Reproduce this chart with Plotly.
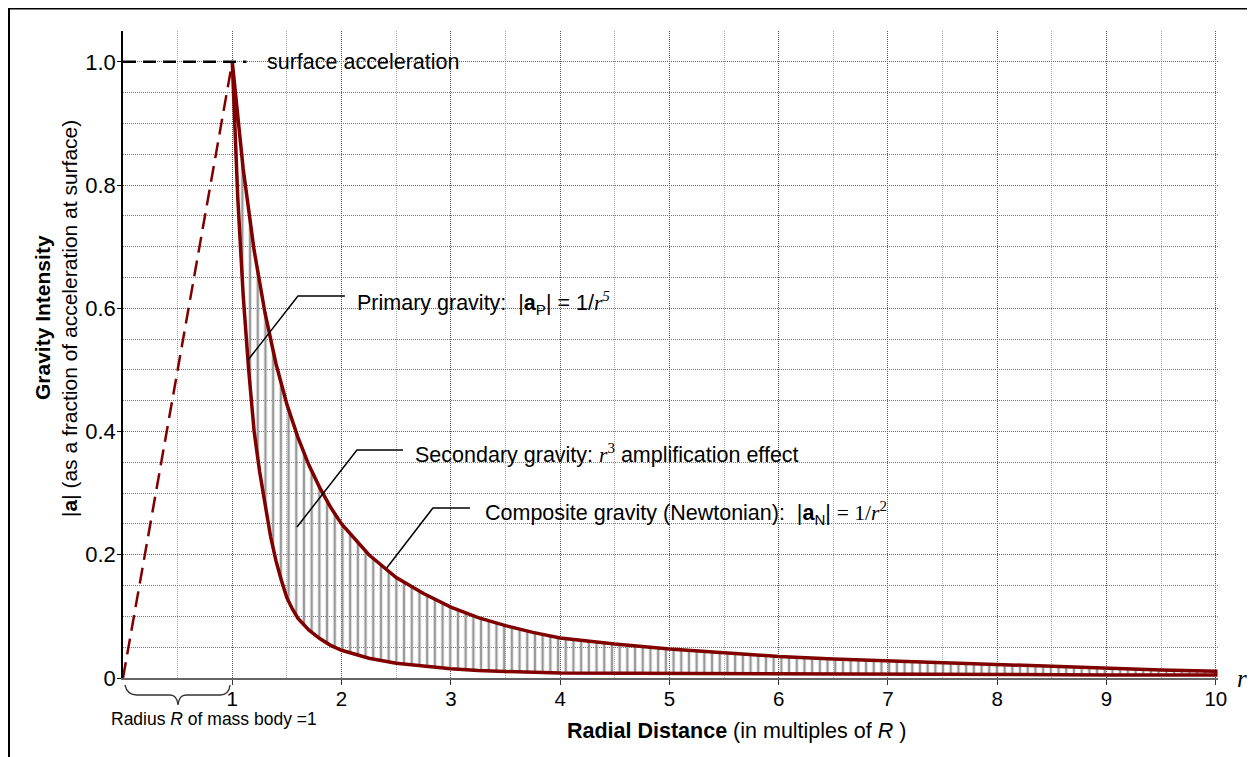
import plotly.graph_objects as go

# ---------------- data ----------------
r_upper = [1.0, 1.1, 1.2, 1.3, 1.4, 1.5, 1.6, 1.7, 1.8, 1.9, 2.0, 2.25, 2.5, 2.75,
           3.0, 3.25, 3.5, 3.75, 4.0, 4.5, 5.0, 5.5, 6.0, 6.5, 7.0, 7.5, 8.0,
           8.5, 9.0, 9.5, 10.0]
a_newtonian = [1.0, 0.826, 0.694, 0.592, 0.510, 0.444, 0.391, 0.346, 0.309, 0.277,
               0.250, 0.200, 0.163, 0.137, 0.115, 0.098, 0.085, 0.074, 0.065,
               0.055, 0.047, 0.041, 0.035, 0.031, 0.028, 0.024, 0.021, 0.018,
               0.016, 0.013, 0.011]

r_lower = [1.0, 1.05, 1.1, 1.15, 1.2, 1.25, 1.3, 1.35, 1.4, 1.45, 1.5, 1.55, 1.6,
           1.7, 1.8, 1.9, 2.0, 2.25, 2.5, 2.75, 3.0, 3.25, 3.5, 4.0, 4.5, 5.0,
           6.0, 7.0, 8.0, 9.0, 10.0]
a_primary = [1.0, 0.78, 0.62, 0.50, 0.40, 0.335, 0.28, 0.23, 0.19, 0.158, 0.13,
             0.112, 0.097, 0.078, 0.064, 0.053, 0.045, 0.032, 0.024, 0.019,
             0.015, 0.012, 0.0105, 0.008, 0.007, 0.0065, 0.006, 0.006, 0.0055,
             0.005, 0.005]

r_inner = [0.0, 1.0]
a_inner = [0.0, 1.0]

r_surface = [0.0, 1.13]
a_surface = [1.0, 1.0]

x_tickvals = [1, 2, 3, 4, 5, 6, 7, 8, 9, 10]
x_ticktext = ["1", "2", "3", "4", "5", "6", "7", "8", "9", "10"]
y_tickvals = [0, 0.2, 0.4, 0.6, 0.8, 1.0]
y_ticktext = ["0", "0.2", "0.4", "0.6", "0.8", "1.0"]

# ---------------- styles / layout ----------------
RED = "#800000"
SANS = "Liberation Sans, Arial, sans-serif"
SERIF = "Liberation Serif, Times New Roman, serif"

OX, OY = 8, 8                 # page offset of the figure (body margin)
W, H = 1247, 749
L, R, T, B = 115, 37, 23, 79
PW, PH = W - L - R, H - T - B


def px(xp):
    """page pixel x -> paper x"""
    return (xp - OX - L) / PW


def py(yp):
    """page pixel y -> paper y"""
    return (OY + H - B - yp) / PH


fig = go.Figure()

# hatched region between composite and primary curves (closed outline)
fig.add_trace(go.Scatter(
    x=r_upper + r_lower[::-1],
    y=a_newtonian + a_primary[::-1],
    mode="lines",
    fill="toself",
    fillcolor="rgba(0,0,0,0)",
    fillpattern=dict(shape="|", fgcolor="#999999", bgcolor="rgba(0,0,0,0)",
                     size=7.7, solidity=0.32, fillmode="replace"),
    line=dict(color=RED, width=3.5),
    hoverinfo="skip",
))

# interior (linear) gravity, dashed
fig.add_trace(go.Scatter(
    x=r_inner, y=a_inner, mode="lines",
    line=dict(color=RED, width=2.5, dash="16px,8px"),
    hoverinfo="skip",
))

# surface acceleration dashed line
fig.add_trace(go.Scatter(
    x=r_surface, y=a_surface, mode="lines",
    line=dict(color="black", width=2.5, dash="13px,7px"),
    hoverinfo="skip",
))

shapes = []
# leader lines
leaders = [
    [(1.144, 0.516), (1.601, 0.620), (2.031, 0.620)],
    [(1.592, 0.245), (2.141, 0.370), (2.562, 0.370)],
    [(2.415, 0.179), (2.836, 0.276), (3.175, 0.276)],
]
for pts in leaders:
    path = "M %f,%f " % pts[0] + " ".join("L %f,%f" % p for p in pts[1:])
    shapes.append(dict(type="path", xref="x", yref="y", path=path,
                       line=dict(color="black", width=1.5)))

# brace under the radius (paper coordinates so it is not clipped)
bp = [(125, 685), (127, 695), (137, 695), (170, 695), (177, 695), (178, 705),
      (179, 695), (186, 695), (220, 695), (229, 695), (230, 685)]
P = [(px(a), py(b)) for a, b in bp]
brace = ("M {0[0]},{0[1]} Q {1[0]},{1[1]} {2[0]},{2[1]} L {3[0]},{3[1]} "
         "Q {4[0]},{4[1]} {5[0]},{5[1]} Q {6[0]},{6[1]} {7[0]},{7[1]} "
         "L {8[0]},{8[1]} Q {9[0]},{9[1]} {10[0]},{10[1]}").format(*P)
shapes.append(dict(type="path", xref="paper", yref="paper", path=brace,
                   line=dict(color="#333333", width=1.3)))

# outer frame
shapes.append(dict(type="rect", xref="paper", yref="paper",
                   x0=px(9), x1=px(1270), y0=py(775), y1=py(8.5),
                   line=dict(color="black", width=2)))

FS = 21.5
annotations = [
    dict(x=1.30, y=1.0, xref="x", yref="y", xanchor="left", yanchor="middle",
         text="surface acceleration", showarrow=False,
         font=dict(size=FS, family=SANS, color="black")),
    dict(x=2.12, y=0.609, xref="x", yref="y", xanchor="left", yanchor="middle",
         text=("Primary gravity:  |<b>a</b><sub>P</sub>| = 1/"
               "<span style='font-family:Liberation Serif'><i>r</i><sup><i>5</i></sup></span>"),
         showarrow=False, font=dict(size=FS, family=SANS, color="black")),
    dict(x=2.653, y=0.365, xref="x", yref="y", xanchor="left", yanchor="middle",
         text=("Secondary gravity: "
               "<span style='font-family:Liberation Serif'><i>r</i><sup>3</sup></span>"
               " amplification effect"),
         showarrow=False, font=dict(size=FS, family=SANS, color="black")),
    dict(x=3.294, y=0.268, xref="x", yref="y", xanchor="left", yanchor="middle",
         text=("Composite gravity (Newtonian):  |<b>a</b><sub>N</sub>| "
               "<span style='font-family:Liberation Serif'>= 1/<i>r</i><sup>2</sup></span>"),
         showarrow=False, font=dict(size=FS, family=SANS, color="black")),
    dict(x=px(42), y=py(318), xref="paper", yref="paper", textangle=-90,
         xanchor="center", yanchor="middle", showarrow=False,
         text="<b>Gravity Intensity</b>",
         font=dict(size=21, family=SANS, color="black")),
    dict(x=px(69), y=py(319), xref="paper", yref="paper", textangle=-90,
         xanchor="center", yanchor="middle", showarrow=False,
         text="|<b>a</b>| (as a fraction of acceleration at surface)",
         font=dict(size=21, family=SANS, color="black")),
    dict(x=px(736), y=py(731), xref="paper", yref="paper",
         xanchor="center", yanchor="middle", showarrow=False,
         text="<b>Radial Distance</b> (in multiples of <i>R</i> )",
         font=dict(size=FS, family=SANS, color="black")),
    dict(x=px(214), y=py(718.5), xref="paper", yref="paper",
         xanchor="center", yanchor="middle", showarrow=False,
         text="Radius <i>R</i> of mass body =1",
         font=dict(size=17.5, family=SANS, color="black")),
    dict(x=px(1242), y=py(678), xref="paper", yref="paper",
         xanchor="center", yanchor="middle", showarrow=False,
         text="<i>r</i>",
         font=dict(size=25, family=SERIF, color="black")),
]

fig.update_layout(
    width=W, height=H,
    margin=dict(l=L, r=R, t=T, b=B, pad=0),
    paper_bgcolor="white", plot_bgcolor="white",
    showlegend=False, hovermode=False,
    font=dict(family=SANS, size=20, color="black"),
    shapes=shapes, annotations=annotations,
    xaxis=dict(
        range=[0, 10.02], tickmode="array", tickvals=x_tickvals, ticktext=x_ticktext,
        showline=True, linecolor="#666666", linewidth=2,
        ticks="outside", ticklen=5, tickcolor="#333333", tickwidth=1,
        ticklabelstandoff=-4,
        showgrid=True, gridcolor="#555555", gridwidth=1, griddash="1px,1px",
        minor=dict(tick0=0, dtick=0.5, showgrid=True, gridcolor="#aaaaaa",
                   griddash="1px,1px", gridwidth=1),
        zeroline=False, tickfont=dict(size=20.5, family=SANS),
    ),
    yaxis=dict(
        range=[0, 1.05], tickmode="array", tickvals=y_tickvals, ticktext=y_ticktext,
        showline=True, linecolor="black", linewidth=1.5,
        ticks="outside", ticklen=4, tickcolor="black", tickwidth=1,
        ticklabelstandoff=-3,
        showgrid=True, gridcolor="#666666", gridwidth=1, griddash="1px,1px",
        minor=dict(tick0=0, dtick=0.05, showgrid=True, gridcolor="#777777",
                   griddash="1px,1px", gridwidth=1),
        zeroline=False, tickfont=dict(size=22, family=SANS),
    ),
)

fig.write_html("out.html")
